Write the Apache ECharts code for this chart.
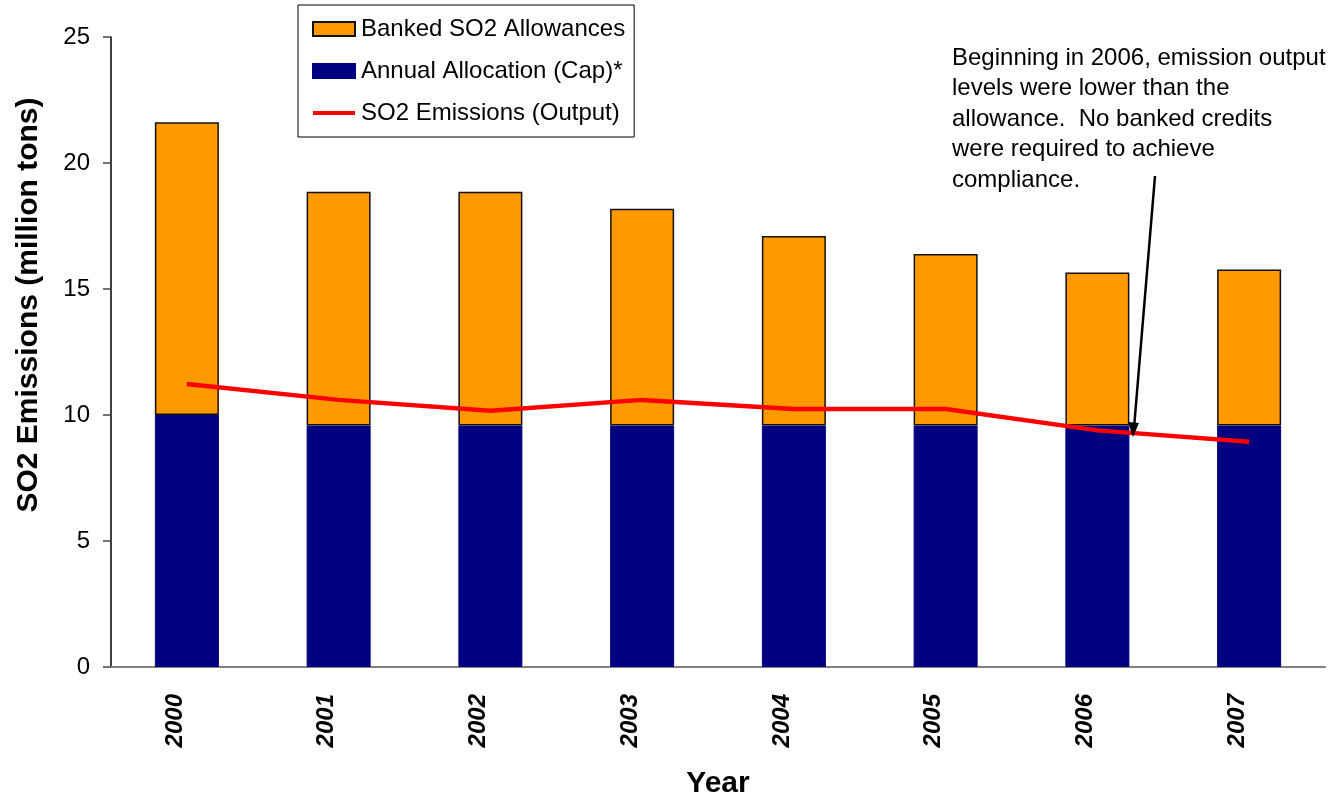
<!DOCTYPE html>
<html>
<head>
<meta charset="utf-8">
<script src="https://cdn.jsdelivr.net/npm/echarts@6/dist/echarts.min.js"></script>
<style>
  html, body { margin: 0; padding: 0; background: #fff; }
  #chart { width: 1333px; height: 798px; }
</style>
</head>
<body>
<div id="chart"></div>
<script>
// values (million tons)
var years = ['2000', '2001', '2002', '2003', '2004', '2005', '2006', '2007'];
var capValues = [10.0, 9.58, 9.58, 9.58, 9.58, 9.58, 9.58, 9.58];
var bankedValues = [11.62, 9.28, 9.28, 8.6, 7.52, 6.81, 6.07, 6.19];
var emissionValues = [11.23, 10.6, 10.17, 10.6, 10.24, 10.24, 9.39, 8.94];
var yTicks = { min: 0, max: 25, interval: 5 };

var font = 'Liberation Sans';

var chartDom = document.getElementById('chart');
var myChart = echarts.init(chartDom);

var option = {
  animation: false,
  backgroundColor: '#fff',
  grid: {
    left: 111,
    right: 8,
    top: 37,
    bottom: 131,
    outerBoundsMode: 'none' // keep the plot box where it is
  },
  legend: {
    orient: 'vertical',
    left: 298,
    top: 5,
    padding: [12, 9, 12, 13],
    itemGap: 18,
    itemWidth: 42,
    itemHeight: 14,
    backgroundColor: '#fff',
    borderColor: '#000',
    borderWidth: 1,
    textStyle: {
      fontFamily: font,
      fontSize: 24,
      lineHeight: 24,
      color: '#000',
      padding: [0, 0, 0, 1]
    },
    data: [
      { name: 'Banked SO2 Allowances', icon: 'rect' },
      { name: 'Annual Allocation (Cap)*', icon: 'rect' },
      { name: 'SO2 Emissions (Output)', itemStyle: { opacity: 0 }, lineStyle: { width: 4 } }
    ]
  },
  xAxis: {
    type: 'category',
    data: years,
    name: 'Year',
    nameLocation: 'middle',
    nameGap: 102,
    nameTextStyle: {
      fontFamily: font,
      fontSize: 30,
      fontWeight: 'bold',
      color: '#000'
    },
    axisLine: { lineStyle: { color: '#808080', width: 2 } },
    axisTick: { length: 9, lineStyle: { color: '#555', width: 1.5 } },
    axisLabel: {
      rotate: 90,
      margin: 27,
      verticalAlign: 'bottom',
      fontFamily: font,
      fontSize: 24,
      fontWeight: 'bold',
      fontStyle: 'italic',
      color: '#000'
    }
  },
  yAxis: {
    type: 'value',
    min: yTicks.min,
    max: yTicks.max,
    interval: yTicks.interval,
    name: 'SO2 Emissions (million tons)',
    nameLocation: 'middle',
    nameGap: 67,
    nameTextStyle: {
      fontFamily: font,
      fontSize: 30,
      fontWeight: 'bold',
      color: '#000',
      padding: [0, 0, 0, 94]
    },
    axisLine: { show: true, lineStyle: { color: '#000', width: 1.5 } },
    axisTick: { show: true, length: 8, lineStyle: { color: '#444', width: 1.5 } },
    axisLabel: {
      margin: 21,
      fontFamily: font,
      fontSize: 24,
      color: '#000'
    },
    splitLine: { show: false }
  },
  series: [
    {
      name: 'Annual Allocation (Cap)*',
      type: 'bar',
      stack: 'total',
      barWidth: 64,
      data: capValues,
      itemStyle: {
        color: '#000080',
        borderColor: '#000080',
        borderWidth: 1
      }
    },
    {
      name: 'Banked SO2 Allowances',
      type: 'bar',
      stack: 'total',
      barWidth: 64,
      data: bankedValues,
      itemStyle: {
        color: '#FF9900',
        borderColor: '#111',
        borderWidth: 1.5
      }
    },
    {
      name: 'SO2 Emissions (Output)',
      type: 'line',
      data: emissionValues,
      symbol: 'none',
      z: 5,
      lineStyle: {
        color: '#FF0000',
        width: 4.5
      },
      itemStyle: { color: '#FF0000' }
    }
  ],
  graphic: [
    {
      type: 'text',
      left: 952,
      top: 43,
      style: {
        text: 'Beginning in 2006, emission output\nlevels were lower than the\nallowance.  No banked credits\nwere required to achieve\ncompliance.',
        fontFamily: font,
        fontSize: 24,
        lineHeight: 30.5,
        fill: '#000'
      }
    },
    // annotation arrow
    {
      type: 'line',
      shape: { x1: 1155, y1: 176, x2: 1134, y2: 428 },
      style: { stroke: '#000', lineWidth: 2.5 },
      z: 10
    },
    {
      type: 'polygon',
      shape: { points: [[1133, 437], [1139, 423], [1128, 422]] },
      style: { fill: '#000' },
      z: 10
    }
  ]
};

myChart.setOption(option);
</script>
</body>
</html>
